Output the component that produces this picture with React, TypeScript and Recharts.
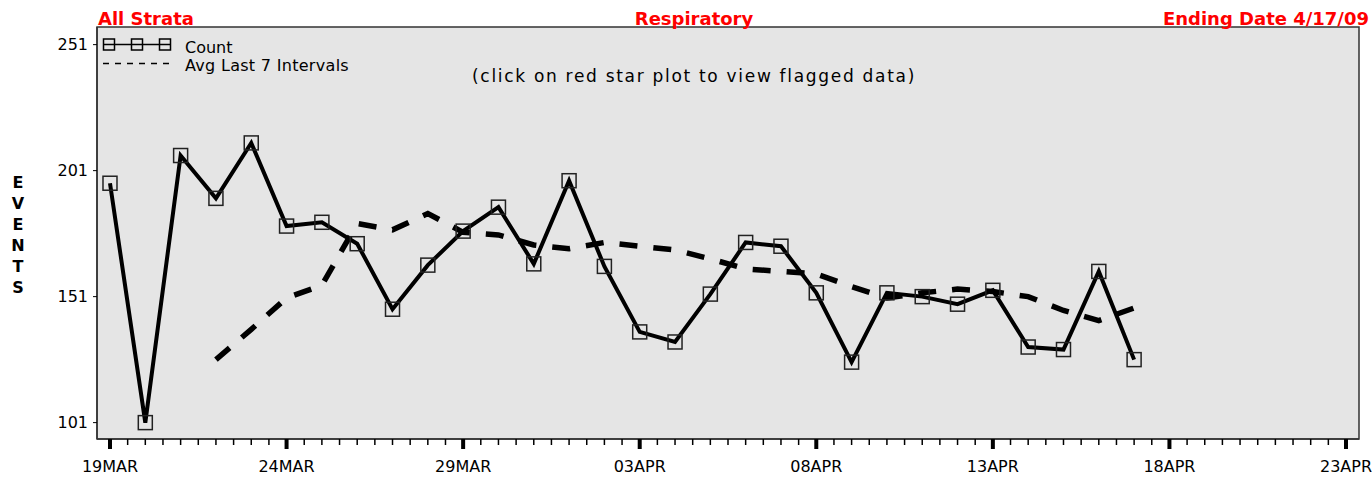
// Respiratory event counts with a 7-interval running average, SAS-style plot.
import { Line, LineChart, ReferenceArea, XAxis, YAxis } from "recharts";

const dates = [
  "19MAR", "20MAR", "21MAR", "22MAR", "23MAR", "24MAR", "25MAR", "26MAR", "27MAR", "28MAR",
  "29MAR", "30MAR", "31MAR", "01APR", "02APR", "03APR", "04APR", "05APR", "06APR", "07APR",
  "08APR", "09APR", "10APR", "11APR", "12APR", "13APR", "14APR", "15APR", "16APR", "17APR",
];
const countValues = [
  196, 101, 207, 190, 212, 179, 180.5, 172, 146, 163.5,
  177, 186.5, 164, 197, 163, 137, 133, 152, 172.5, 171,
  152.5, 125, 152.5, 151, 148, 153.5, 131, 130, 161, 126,
];
const avgValues: (number | null)[] = [
  null, null, null, 126, 138, 150.5, 155.5, 180, 177.5, 184,
  176.5, 175.5, 171.5, 170, 172.5, 171, 169.5, 166, 162, 161,
  160, 155, 150.5, 152.5, 154, 153, 151, 145.5, 141.5, 146.5,
];
const xTickLabels = ["19MAR", "24MAR", "29MAR", "03APR", "08APR", "13APR", "18APR", "23APR"];
const yTicks = [101, 151, 201, 251];
const countName = "Count";
const avgName = "Avg Last 7 Intervals";
const eventsLetters = ["E", "V", "E", "N", "T", "S"];

const data = dates.map((d, i) => ({ day: i, date: d, count: countValues[i], avg: avgValues[i] }));
// half-day minor ticks, labelled every 5 days
const xTicks = Array.from({ length: (xTickLabels.length - 1) * 10 + 1 }, (_, i) => i / 2);

const FONT = "DejaVu Sans";

function DayTick({ x, y, payload }: any) {
  const v = payload.value as number;
  const major = v % 5 === 0;
  return (
    <g>
      <line x1={x} x2={x} y1={y} y2={y + (major ? 10 : 6)} stroke="#000" strokeWidth={major ? 4 : 1.5} />
      {major && (
        <text x={x} y={y + 33} textAnchor="middle" fontSize={16} fontFamily={FONT} fill="#000">
          {xTickLabels[v / 5]}
        </text>
      )}
    </g>
  );
}

function SquareDot({ cx, cy }: any) {
  if (cx == null || cy == null) return null;
  return <rect x={cx - 7} y={cy - 7} width={14} height={14} fill="none" stroke="#222" strokeWidth={1.5} />;
}

export default function App() {
  return (
    <div style={{ position: "absolute", left: 0, top: 0, width: 1372, height: 477, background: "#fff", fontFamily: FONT }}>
      <LineChart width={1372} height={477} data={data} margin={{ top: 27, right: 13, bottom: 0, left: 0 }}>
        <XAxis
          dataKey="day"
          type="number"
          domain={[-0.368, 35.368]}
          ticks={xTicks}
          interval={0}
          tick={<DayTick />}
          tickLine={false}
          tickSize={0}
          tickMargin={0}
          height={38}
          axisLine={{ stroke: "#333", strokeWidth: 1.5 }}
          allowDataOverflow
        />
        <YAxis
          type="number"
          domain={[94.5, 258]}
          ticks={yTicks}
          interval={0}
          width={97}
          tickSize={4}
          tickMargin={5}
          tick={{ fontSize: 16, fill: "#000", fontFamily: FONT }}
          tickLine={{ stroke: "#000" }}
          axisLine={{ stroke: "#333", strokeWidth: 1.5 }}
          allowDataOverflow
        />
        <ReferenceArea x1={-0.368} x2={35.368} y1={94.5} y2={258} fill="#e5e5e5" fillOpacity={1} stroke="#333" strokeWidth={1.5} />
        <Line
          dataKey="avg"
          name={avgName}
          type="linear"
          stroke="#000"
          strokeWidth={5.5}
          strokeDasharray="18 16"
          dot={false}
          activeDot={false}
          isAnimationActive={false}
        />
        <Line
          dataKey="count"
          name={countName}
          type="linear"
          stroke="#000"
          strokeWidth={4}
          dot={<SquareDot />}
          activeDot={false}
          isAnimationActive={false}
        />
      </LineChart>
      <svg width={1372} height={477} style={{ position: "absolute", left: 0, top: 0, pointerEvents: "none" }} fontFamily={FONT}>
        <text x={98} y={25} fill="#f00" fontSize={18} fontWeight="bold">All Strata</text>
        <text x={694} y={25} fill="#f00" fontSize={18} fontWeight="bold" textAnchor="middle">Respiratory</text>
        <text x={1369} y={25} fill="#f00" fontSize={18} fontWeight="bold" textAnchor="end">Ending Date 4/17/09</text>
        {eventsLetters.map((c, i) => (
          <text key={i} x={18} y={188 + i * 21} fontSize={16} fontWeight="bold" textAnchor="middle" fill="#000">{c}</text>
        ))}
        <line x1={103} x2={171} y1={44.5} y2={44.5} stroke="#000" strokeWidth={1.5} />
        {[109, 137, 165].map((sx) => (
          <rect key={sx} x={sx - 5.5} y={39} width={11} height={11} fill="none" stroke="#000" strokeWidth={1.5} />
        ))}
        <text x={185} y={52.5} fontSize={16} fill="#000">{countName}</text>
        <line x1={103} x2={171} y1={63.5} y2={63.5} stroke="#000" strokeWidth={1.5} strokeDasharray="6 6" />
        <text x={185} y={71} fontSize={16} fill="#000" letterSpacing={0.3}>{avgName}</text>
        <text x={472} y={81.5} fontSize={17} fill="#000" letterSpacing={1.7}>(click on red star plot to view flagged data)</text>
      </svg>
    </div>
  );
}
